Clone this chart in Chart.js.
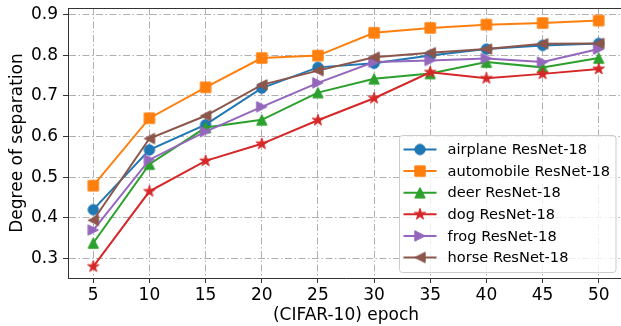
<!DOCTYPE html>
<html lang="en">
<head>
  <meta charset="UTF-8">
  <title>Degree of separation vs epoch</title>
  <script src="https://cdn.jsdelivr.net/npm/chart.js"></script>
  <style>
    body {
      margin: 0;
      width: 621px;
      height: 326px;
      overflow: hidden;
      background: #fff;
    }
    #sepChart {
      display: block;
    }
  </style>
</head>
<body>
  <canvas id="sepChart" width="624" height="326"></canvas>

  <script>
    const epochs = [5, 10, 15, 20, 25, 30, 35, 40, 45, 50];
    const yTicks = [0.3, 0.4, 0.5, 0.6, 0.7, 0.8, 0.9];

    const airplane   = [0.420, 0.567, 0.629, 0.719, 0.770, 0.780, 0.799, 0.815, 0.824, 0.829];
    const automobile = [0.479, 0.645, 0.721, 0.793, 0.799, 0.855, 0.867, 0.875, 0.879, 0.885];
    const deer       = [0.338, 0.532, 0.622, 0.641, 0.708, 0.742, 0.755, 0.783, 0.770, 0.793];
    const dog        = [0.280, 0.465, 0.540, 0.582, 0.640, 0.694, 0.758, 0.743, 0.754, 0.766];
    const frog       = [0.370, 0.543, 0.612, 0.673, 0.732, 0.783, 0.787, 0.792, 0.783, 0.815];
    const horse      = [0.394, 0.595, 0.651, 0.727, 0.762, 0.795, 0.806, 0.815, 0.828, 0.829];

    const seriesNames = ['airplane ResNet-18', 'automobile ResNet-18', 'deer ResNet-18',
                         'dog ResNet-18', 'frog ResNet-18', 'horse ResNet-18'];
    const seriesValues = [airplane, automobile, deer, dog, frog, horse];
    const colors = ['#1f77b4', '#ff7f0e', '#2ca02c', '#d62728', '#9467bd', '#8c564b'];
    const shapes = ['circle', 'square', 'up', 'star', 'right', 'left'];

    const FAMILY = '"DejaVu Sans", sans-serif';
    const AXIS_FONT = { family: FAMILY, size: 17 };
    const LEGEND_SIZE = 14.6;
    Chart.defaults.color = '#000';

    // matplotlib-like markers drawn on small canvases
    function makeMarker(shape, color) {
      const s = 16, m = s / 2, r = 5.2;
      const c = document.createElement('canvas');
      c.width = s; c.height = s;
      const g = c.getContext('2d');
      g.fillStyle = color;
      g.strokeStyle = color;
      g.lineWidth = 1;
      g.beginPath();
      if (shape === 'circle') {
        g.arc(m, m, r, 0, Math.PI * 2);
      } else if (shape === 'square') {
        g.rect(m - r, m - r, 2 * r, 2 * r);
      } else if (shape === 'up') {
        g.moveTo(m, m - r); g.lineTo(m - r, m + r); g.lineTo(m + r, m + r);
      } else if (shape === 'right') {
        g.moveTo(m + r, m); g.lineTo(m - r, m - r); g.lineTo(m - r, m + r);
      } else if (shape === 'left') {
        g.moveTo(m - r, m); g.lineTo(m + r, m - r); g.lineTo(m + r, m + r);
      } else if (shape === 'star') {
        const R = r * 1.15, ri = R * 0.382;
        for (let k = 0; k < 10; k++) {
          const ang = -Math.PI / 2 + k * Math.PI / 5;
          const rr = k % 2 ? ri : R;
          const px = m + rr * Math.cos(ang), py = m + rr * Math.sin(ang);
          if (k === 0) g.moveTo(px, py); else g.lineTo(px, py);
        }
      }
      g.closePath();
      g.fill();
      g.stroke();
      return c;
    }

    const markers = shapes.map((sh, i) => makeMarker(sh, colors[i]));

    const datasets = seriesValues.map((vals, i) => ({
      label: seriesNames[i],
      data: vals.map((v, j) => ({ x: epochs[j], y: v })),
      borderColor: colors[i],
      backgroundColor: colors[i],
      borderWidth: 2,
      pointStyle: markers[i],
      pointRadius: 6,
      tension: 0,
      order: seriesValues.length - i,
      clip: false
    }));

    const frameLegend = {
      id: 'frameLegend',
      afterDraw(chart) {
        const { ctx, chartArea: a } = chart;
        ctx.save();
        // top spine
        ctx.strokeStyle = '#333';
        ctx.lineWidth = 1;
        ctx.beginPath();
        ctx.moveTo(a.left, Math.round(a.top) + 0.5);
        ctx.lineTo(a.right, Math.round(a.top) + 0.5);
        ctx.stroke();

        // legend box
        ctx.font = LEGEND_SIZE + 'px ' + FAMILY;
        const maxW = Math.max(...seriesNames.map(t => ctx.measureText(t).width));
        const w = 48 + maxW + 6;
        const h = 137;
        const x0 = Math.round(a.right - 9 - w) + 0.5;
        const y0 = Math.round(a.bottom - 6 - h) + 0.5;
        ctx.beginPath();
        ctx.roundRect(x0, y0, w, h, 3);
        ctx.fillStyle = 'rgba(255,255,255,0.8)';
        ctx.fill();
        ctx.strokeStyle = '#cccccc';
        ctx.stroke();

        seriesNames.forEach((name, i) => {
          const cy = y0 + 14 + i * 21.6;
          ctx.strokeStyle = colors[i];
          ctx.lineWidth = 2;
          ctx.beginPath();
          ctx.moveTo(x0 + 4, cy);
          ctx.lineTo(x0 + 37, cy);
          ctx.stroke();
          ctx.drawImage(markers[i], x0 + 20.5 - 8, cy - 8);
          ctx.fillStyle = '#000';
          ctx.textBaseline = 'middle';
          ctx.textAlign = 'left';
          ctx.fillText(name, x0 + 48, cy + 1);
        });
        ctx.restore();
      }
    };

    const gridDash = [7, 2.5, 1.5, 2.5];

    new Chart(document.getElementById('sepChart'), {
      type: 'line',
      data: { datasets },
      options: {
        responsive: false,
        animation: false,
        layout: { autoPadding: false, padding: { top: 8, left: 0, right: 0, bottom: 0 } },
        plugins: {
          legend: { display: false },
          tooltip: { enabled: false }
        },
        scales: {
          x: {
            type: 'linear',
            min: 2.75,
            max: 52.25,
            afterBuildTicks: s => { s.ticks = epochs.map(v => ({ value: v })); },
            afterFit: s => {
              s.height = 48;
              s.paddingLeft = 0; s.paddingRight = 0;
              s.paddingTop = 0; s.paddingBottom = 0;
            },
            ticks: {
              font: AXIS_FONT,
              color: '#000',
              padding: 2,
              autoSkip: false,
              maxRotation: 0,
              callback: v => String(v)
            },
            grid: { color: '#b0b0b0', lineWidth: 1, tickLength: 5, tickColor: '#333', tickWidth: 1 },
            border: { color: '#333', width: 1, dash: gridDash },
            title: { display: true, text: '(CIFAR-10) epoch', font: AXIS_FONT, color: '#000', padding: { top: 0, bottom: 0 } }
          },
          y: {
            type: 'linear',
            min: 0.252,
            max: 0.916,
            afterBuildTicks: s => { s.ticks = yTicks.map(v => ({ value: v })); },
            afterFit: s => {
              s.width = 68;
              s.paddingLeft = 0; s.paddingRight = 0;
              s.paddingTop = 0; s.paddingBottom = 0;
            },
            ticks: {
              font: AXIS_FONT,
              color: '#000',
              padding: 5,
              callback: v => v.toFixed(1)
            },
            grid: { color: '#b0b0b0', lineWidth: 1, tickLength: 5, tickColor: '#333', tickWidth: 1 },
            border: { color: '#333', width: 1, dash: gridDash },
            title: { display: true, text: 'Degree of separation', font: AXIS_FONT, color: '#000', padding: { top: 7, bottom: 0 } }
          }
        }
      },
      plugins: [frameLegend]
    });
  </script>
</body>
</html>
